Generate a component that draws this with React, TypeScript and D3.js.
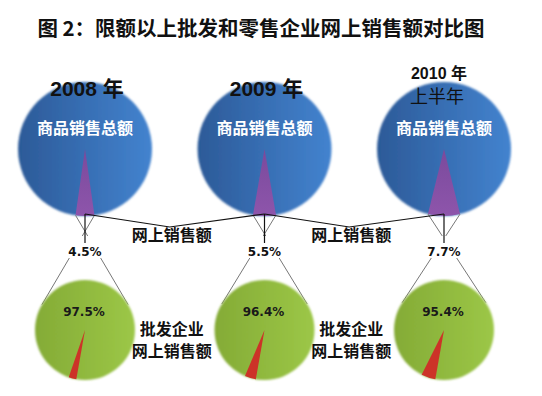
import React from 'react';
import * as d3 from 'd3';

// values
const years = ['2008', '2009', '2010'];
const yearLabels = ['2008 年', '2009 年', '2010 年'];
const yearSubLabels = ['', '', '上半年'];
const onlineShare = [4.5, 5.5, 7.7];
const wholesaleShare = [97.5, 96.4, 95.4];

const title = '图 2：限额以上批发和零售企业网上销售额对比图';
const totalLabel = '商品销售总额';
const onlineLabel = '网上销售额';
const wholesaleLabel = ['批发企业', '网上销售额'];

const W = 542;
const H = 396;
const CJK = '"Noto Sans CJK SC", sans-serif';
const LATIN = '"Liberation Sans", Arial, "Noto Sans CJK SC", sans-serif';
const NUM = '"DejaVu Sans", sans-serif';

const topR = 67;
const topY = 149;
const botR = 50;
const botY = 330;
const redStart = (190 / 180) * Math.PI;

// tangent point from an outside point p to a circle (cx, cy, r); side -1 = left, 1 = right
const tangent = (px: number, py: number, cx: number, cy: number, r: number, side: number) => {
    const d = Math.hypot(px - cx, py - cy);
    const th = Math.atan2(py - cy, px - cx);
    const a = Math.acos(r / d);
    const t1 = [cx + r * Math.cos(th + a), cy + r * Math.sin(th + a)];
    const t2 = [cx + r * Math.cos(th - a), cy + r * Math.sin(th - a)];
    return side < 0 ? (t1[0] < t2[0] ? t1 : t2) : (t1[0] > t2[0] ? t1 : t2);
};

const App = () => {
    const x = d3.scalePoint<string>().domain(years).range([85, 444]);
    const topArc = d3.arc<d3.PieArcDatum<number>>().innerRadius(0).outerRadius(topR);
    const botArc = d3.arc<d3.PieArcDatum<number>>().innerRadius(0).outerRadius(botR);

    return (
        <svg width={W} height={H} style={{ position: 'absolute', left: 0, top: 0, background: '#fff' }}>
            <defs>
                <linearGradient id="blue" x1="0" x2="1" y1="0" y2="0">
                    <stop offset="0%" stopColor="#2c5a98" />
                    <stop offset="100%" stopColor="#4383cf" />
                </linearGradient>
                <linearGradient id="purple" x1="0" x2="0" y1="0" y2="1">
                    <stop offset="0%" stopColor="#7a4a9c" />
                    <stop offset="100%" stopColor="#8e55ab" />
                </linearGradient>
                <linearGradient id="green" x1="0" x2="1" y1="0" y2="0">
                    <stop offset="0%" stopColor="#84ab36" />
                    <stop offset="100%" stopColor="#9cc747" />
                </linearGradient>
                <filter id="soft" x="-10%" y="-10%" width="120%" height="120%">
                    <feGaussianBlur stdDeviation="0.8" />
                </filter>
            </defs>

            <text x={261} y={27} textAnchor="middle" dominantBaseline="central"
                fontFamily={CJK} fontWeight="bold" fontSize={20.5} fill="#111">{title}</text>

            {years.map((yr, i) => {
                const cx = x(yr) as number;
                const a = (onlineShare[i] / 100) * Math.PI * 2;
                const topPie = d3.pie<number>().sort(null).value(d => d)
                    .startAngle(Math.PI - a / 2).endAngle(Math.PI - a / 2 + Math.PI * 2);
                const topSlices = topPie([onlineShare[i], 100 - onlineShare[i]]);
                const botPie = d3.pie<number>().sort(null).value(d => d)
                    .startAngle(redStart).endAngle(redStart + Math.PI * 2);
                const botSlices = botPie([100 - wholesaleShare[i], wholesaleShare[i]]);

                // wedge bottom corners
                const lx = cx + topR * Math.sin(Math.PI - a / 2);
                const ly = topY - topR * Math.cos(Math.PI - a / 2);
                const rx = cx + topR * Math.sin(Math.PI + a / 2);
                const ry = topY - topR * Math.cos(Math.PI + a / 2);
                const tl = tangent(lx, ly, cx, botY, botR, -1);
                const tr = tangent(rx, ry, cx, botY, botR, 1);

                return (
                    <g key={yr}>
                        <g filter="url(#soft)">
                            <circle cx={cx} cy={topY} r={topR} fill="url(#blue)" />
                        </g>
                        <g transform={`translate(${cx},${topY})`}>
                            <path d={topArc(topSlices[0]) as string} fill="url(#purple)" />
                        </g>
                        <line x1={lx} y1={ly} x2={tl[0]} y2={tl[1]} stroke="#777" strokeWidth={1} />
                        <line x1={rx} y1={ry} x2={tr[0]} y2={tr[1]} stroke="#777" strokeWidth={1} />
                        <rect x={cx - 30} y={236} width={60} height={22} fill="#fff" />
                        <line x1={cx} y1={topY + topR - 2} x2={cx} y2={243} stroke="#111" strokeWidth={1.2} />

                        <g filter="url(#soft)">
                            <circle cx={cx} cy={botY} r={botR} fill="url(#green)" />
                        </g>
                        <g transform={`translate(${cx},${botY})`}>
                            <path d={botArc(botSlices[0]) as string} fill="#cc3328" />
                        </g>

                        <text x={cx} y={252} textAnchor="middle" dominantBaseline="central"
                            fontFamily={NUM} fontWeight="bold" fontSize={12} fill="#111">{onlineShare[i]}%</text>
                        <text x={cx - 1} y={312} textAnchor="middle" dominantBaseline="central"
                            fontFamily={NUM} fontWeight="bold" fontSize={12} fill="#1a1a1a">{wholesaleShare[i]}%</text>
                        <text x={cx} y={127} textAnchor="middle" dominantBaseline="central"
                            fontFamily={CJK} fontWeight="bold" fontSize={16} fill="#fff">{totalLabel}</text>
                        {yearSubLabels[i] ? (
                            <g>
                                <text x={cx - 5} y={73} textAnchor="middle" dominantBaseline="central"
                                    fontFamily={LATIN} fontWeight="bold" fontSize={16} fill="#111">{yearLabels[i]}</text>
                                <text x={cx - 7} y={95} textAnchor="middle" dominantBaseline="central"
                                    fontFamily={CJK} fontSize={18} fill="#111">{yearSubLabels[i]}</text>
                            </g>
                        ) : (
                            <text x={cx + 2} y={88} textAnchor="middle" dominantBaseline="central"
                                fontFamily={LATIN} fontWeight="bold" fontSize={21} fill="#111">{yearLabels[i]}</text>
                        )}
                    </g>
                );
            })}

            {/* connectors between the big pies */}
            {years.slice(0, -1).map((yr, i) => {
                const c1 = x(yr) as number;
                const c2 = x(years[i + 1]) as number;
                const vx = (c1 + c2) / 2 - 5;
                const mid = (c1 + c2) / 2;
                const line = d3.line()([[c1, topY + topR - 2], [vx, 227], [c2, topY + topR - 2]]);
                return (
                    <g key={'c' + yr}>
                        <path d={line as string} fill="none" stroke="#111" strokeWidth={1.2} />
                        <text x={mid - 3} y={234} textAnchor="middle" dominantBaseline="central"
                            fontFamily={CJK} fontWeight="bold" fontSize={16} fill="#111">{onlineLabel}</text>
                        <text x={mid - 3} y={328} textAnchor="middle" dominantBaseline="central"
                            fontFamily={CJK} fontWeight="bold" fontSize={16} fill="#111">{wholesaleLabel[0]}</text>
                        <text x={mid - 3} y={350} textAnchor="middle" dominantBaseline="central"
                            fontFamily={CJK} fontWeight="bold" fontSize={16} fill="#111">{wholesaleLabel[1]}</text>
                    </g>
                );
            })}
        </svg>
    );
};

export default App;
